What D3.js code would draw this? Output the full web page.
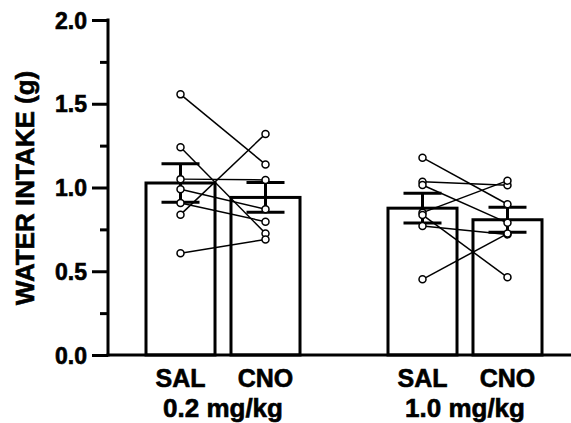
<!DOCTYPE html>
<html>
<head>
<meta charset="utf-8">
<script src="https://cdn.jsdelivr.net/npm/d3@7"></script>
<style>
  html, body { margin: 0; padding: 0; background: #fff; }
  svg { display: block; }
  text { font-family: "Liberation Sans", Arial, sans-serif; font-weight: bold; fill: #000; stroke: #000; stroke-width: 0.6px; }
</style>
</head>
<body>
<svg id="chart" width="571" height="423"></svg>
<script>
// ---- data ----
const doses = ["0.2 mg/kg", "1.0 mg/kg"];
const treatments = ["SAL", "CNO"];
// paired individual values (same index = same animal)
const sal02 = [1.556, 1.24, 1.05, 0.99, 0.907, 0.838, 0.607];
const cno02 = [1.138, 0.726, 1.045, 0.87, 0.796, 1.32, 0.69];
const sal10 = [1.178, 1.035, 1.015, 0.85, 0.836, 0.77, 0.452];
const cno10 = [0.9, 1.013, 0.789, 1.041, 0.464, 0.72, 0.725];
const majorTicks = [0, 0.5, 1.0, 1.5, 2.0];
const minorTicks = [0.25, 0.75, 1.25, 1.75];
const yLabel = "WATER INTAKE (g)";

const groups = [
  { dose: doses[0], SAL: sal02, CNO: cno02 },
  { dose: doses[1], SAL: sal10, CNO: cno10 }
];

const svg = d3.select("#chart");
const axisX0 = 108, axisX1 = 571, yTop = 20, yBottom = 355;

const y = d3.scaleLinear().domain([0, 2]).range([yBottom, yTop]);
const xGroup = d3.scaleBand().domain(doses).range([146, 542]).paddingInner(0.3636).paddingOuter(0);
const xSub = d3.scaleBand().domain(treatments).range([0, xGroup.bandwidth()]).paddingInner(0.188).paddingOuter(0);

function mean(a) { return d3.mean(a); }
function sem(a) { return d3.deviation(a) / Math.sqrt(a.length); }

const bars = [];
groups.forEach(g => treatments.forEach(t => {
  bars.push({ dose: g.dose, t, vals: g[t], m: mean(g[t]), e: sem(g[t]) });
}));
const cx = d => xGroup(d.dose) + xSub(d.t) + xSub.bandwidth() / 2;

// bars
svg.append("g").selectAll("rect").data(bars).join("rect")
  .attr("x", d => xGroup(d.dose) + xSub(d.t))
  .attr("y", d => y(d.m))
  .attr("width", xSub.bandwidth())
  .attr("height", d => y(0) - y(d.m))
  .attr("fill", "#fff").attr("stroke", "#000").attr("stroke-width", 3);

// error bars
const eb = svg.append("g").attr("stroke", "#000").attr("stroke-width", 3);
bars.forEach(d => {
  const c = cx(d), hw = 19;
  eb.append("line").attr("x1", c).attr("x2", c).attr("y1", y(d.m - d.e)).attr("y2", y(d.m + d.e));
  eb.append("line").attr("x1", c - hw).attr("x2", c + hw).attr("y1", y(d.m + d.e)).attr("y2", y(d.m + d.e));
  eb.append("line").attr("x1", c - hw).attr("x2", c + hw).attr("y1", y(d.m - d.e)).attr("y2", y(d.m - d.e));
});

// paired lines
const lg = svg.append("g").attr("stroke", "#000").attr("stroke-width", 1.5);
groups.forEach(g => {
  const xs = xGroup(g.dose) + xSub("SAL") + xSub.bandwidth() / 2;
  const xc = xGroup(g.dose) + xSub("CNO") + xSub.bandwidth() / 2;
  g.SAL.forEach((v, i) => {
    lg.append("line").attr("x1", xs).attr("y1", y(v)).attr("x2", xc).attr("y2", y(g.CNO[i]));
  });
});

// points
const pg = svg.append("g");
bars.forEach(d => {
  pg.selectAll(null).data(d.vals).join("circle")
    .attr("cx", cx(d)).attr("cy", v => y(v)).attr("r", 3.5)
    .attr("fill", "#fff").attr("stroke", "#000").attr("stroke-width", 1.5);
});

// y axis
const yAxis = svg.append("g").attr("transform", `translate(${axisX0},0)`)
  .call(d3.axisLeft(y).tickValues(majorTicks).tickFormat(d3.format(".1f")).tickSize(16).tickPadding(5));
yAxis.select(".domain").remove();
yAxis.selectAll(".tick line").attr("stroke-width", 3);
yAxis.selectAll(".tick text").style("font-size", "23px").attr("dy", "0.35em")
  .style("font-family", "'Liberation Sans', Arial, sans-serif").style("font-weight", "bold")
  .style("stroke", "#000").style("stroke-width", "0.6px");
const yMinor = svg.append("g").attr("transform", `translate(${axisX0},0)`)
  .call(d3.axisLeft(y).tickValues(minorTicks).tickFormat("").tickSize(8));
yMinor.select(".domain").remove();
yMinor.selectAll(".tick line").attr("stroke-width", 3);
svg.append("line").attr("x1", axisX0).attr("x2", axisX0).attr("y1", yTop - 1.5).attr("y2", yBottom + 1.5)
  .attr("stroke", "#000").attr("stroke-width", 3);

// x axis line
svg.append("line").attr("x1", axisX0 - 1.5).attr("x2", axisX1).attr("y1", yBottom).attr("y2", yBottom)
  .attr("stroke", "#000").attr("stroke-width", 3);

// x labels
svg.append("g").selectAll("text").data(bars).join("text")
  .attr("x", d => cx(d)).attr("y", 387).attr("text-anchor", "middle")
  .style("font-size", "25px").text(d => d.t);
svg.append("g").selectAll("text").data(doses).join("text")
  .attr("x", d => xGroup(d) + xGroup.bandwidth() / 2).attr("y", 417).attr("text-anchor", "middle")
  .style("font-size", "26px").text(d => d);

// y title
svg.append("text").attr("transform", `translate(34,188) rotate(-90)`).attr("text-anchor", "middle")
  .style("font-size", "26px").text(yLabel);
</script>
</body>
</html>
